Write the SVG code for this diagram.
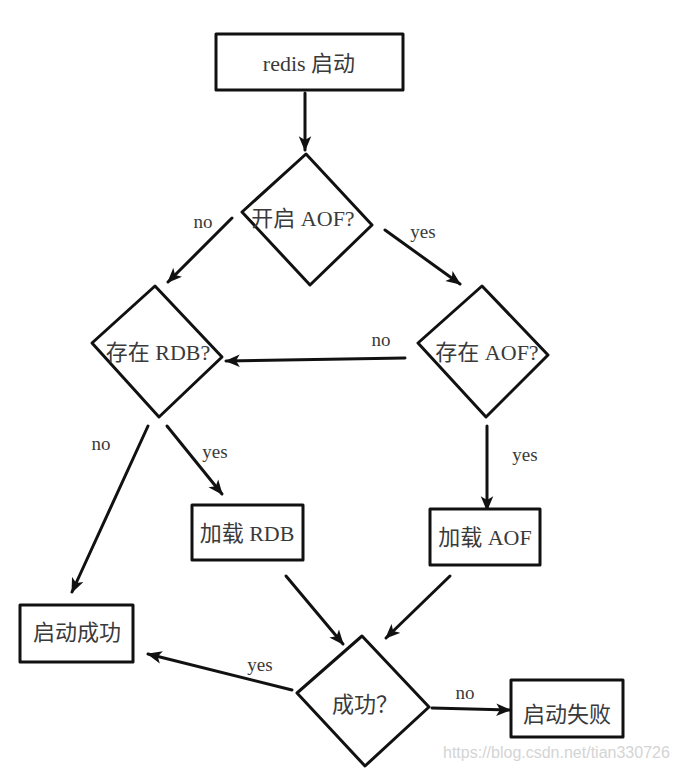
<svg xmlns="http://www.w3.org/2000/svg" width="676" height="774" viewBox="0 0 676 774">
<defs>
<marker id="ah" viewBox="0 0 12 10" refX="11" refY="5" markerWidth="5" markerHeight="4.5" orient="auto" markerUnits="strokeWidth">
<path d="M0,0 L12,5 L0,10 L3,5 z" fill="#111"/>
</marker>
<style>
.shape{fill:#fff;stroke:#111;stroke-width:3;stroke-linejoin:round;stroke-linecap:round}
.edge{fill:none;stroke:#111;stroke-width:3;stroke-linecap:round;marker-end:url(#ah)}
.t{font-family:"Liberation Serif","Noto Sans CJK SC",serif;font-size:22px;fill:#3a3a3a;text-anchor:middle;dominant-baseline:central}
.lbl{font-family:"Liberation Serif","Noto Sans CJK SC",serif;font-size:19px;fill:#3a3a3a;text-anchor:middle;dominant-baseline:central}
.wm{font-family:"Liberation Sans","DejaVu Sans",sans-serif;font-size:16px;fill:#d4d4d4}
</style>
</defs>
<rect width="676" height="774" fill="#fff"/>
<g id="connectors">
<path class="edge" d="M305,93 L305,150"/>
<path class="edge" d="M232,218 L168,282"/>
<path class="edge" d="M385,230 L460,284"/>
<path class="edge" d="M405,358 L226,361"/>
<path class="edge" d="M148,426 L72,592"/>
<path class="edge" d="M167,426 L222,494"/>
<path class="edge" d="M487,426 L487,510"/>
<path class="edge" d="M286,576 L343,644"/>
<path class="edge" d="M450,576 L386,638"/>
<path class="edge" d="M292,690 L148,654"/>
<path class="edge" d="M432,708 L510,710"/>
<text class="lbl" x="203" y="221">no</text>
<text class="lbl" x="423" y="231">yes</text>
<text class="lbl" x="381" y="339">no</text>
<text class="lbl" x="101" y="443">no</text>
<text class="lbl" x="215" y="451">yes</text>
<text class="lbl" x="525" y="454">yes</text>
<text class="lbl" x="260" y="664">yes</text>
<text class="lbl" x="465" y="692">no</text>
</g>
<g id="n_start">
<rect class="shape" x="216" y="34" width="187" height="56"/>
<text class="t" x="309" y="63">redis 启动</text>
</g>
<g id="n_aof_on">
<polygon class="shape" points="306,154 372,225 310,285 242,212"/>
<text class="t" x="303" y="218">开启 AOF?</text>
</g>
<g id="n_rdb_exists">
<polygon class="shape" points="155,286 222,357 159,417 92,343"/>
<text class="t" x="158" y="352">存在 RDB?</text>
</g>
<g id="n_aof_exists">
<polygon class="shape" points="482,286 548,355 486,417 418,343"/>
<text class="t" x="487" y="352">存在 AOF?</text>
</g>
<g id="n_load_rdb">
<rect class="shape" x="192" y="505" width="111" height="55"/>
<text class="t" x="247" y="533">加载 RDB</text>
</g>
<g id="n_load_aof">
<rect class="shape" x="430" y="509" width="110" height="56"/>
<text class="t" x="485" y="537">加载 AOF</text>
</g>
<g id="n_ok">
<rect class="shape" x="20" y="605" width="113" height="57"/>
<text class="t" x="77" y="632">启动成功</text>
</g>
<g id="n_success">
<polygon class="shape" points="362,636 429,707 365,766 297,693"/>
<text class="t" x="365" y="704">成功？</text>
</g>
<g id="n_fail">
<rect class="shape" x="511" y="680" width="112" height="57"/>
<text class="t" x="567" y="714">启动失败</text>
</g>
<text class="wm" x="443" y="758">https://blog.csdn.net/tian330726</text>
</svg>
